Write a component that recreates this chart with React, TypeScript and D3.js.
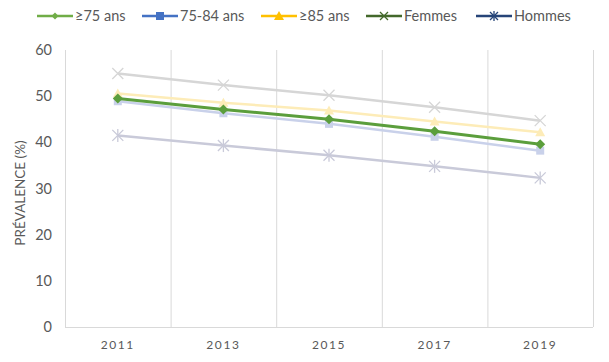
import React, {JSX} from "react";
import * as d3 from "d3";

const years = ["2011", "2013", "2015", "2017", "2019"];
const yTicks = [0, 10, 20, 30, 40, 50, 60];

const ge75 = [49.5, 47.1, 45.0, 42.4, 39.6];
const age7584 = [48.9, 46.3, 44.0, 41.2, 38.2];
const ge85 = [50.6, 48.6, 46.9, 44.5, 42.2];
const femmes = [54.9, 52.4, 50.2, 47.6, 44.7];
const hommes = [41.5, 39.3, 37.2, 34.8, 32.3];

type Series = {name: string; values: number[]; legend: string; plot: string; marker: string; width: number};

const series: Series[] = [
    {name: "75-84 ans", values: age7584, legend: "#4472C4", plot: "#c9d1ea", marker: "square", width: 2.5},
    {name: "≥85 ans", values: ge85, legend: "#FFC000", plot: "#fdecb8", marker: "triangle", width: 2.5},
    {name: "Femmes", values: femmes, legend: "#43682B", plot: "#d6d6d6", marker: "x", width: 2.5},
    {name: "Hommes", values: hommes, legend: "#264478", plot: "#c9cad9", marker: "star", width: 2.5},
    {name: "≥75 ans", values: ge75, legend: "#70AD47", plot: "#5b9e3c", marker: "diamond", width: 3},
];

const legendOrder = ["≥75 ans", "75-84 ans", "≥85 ans", "Femmes", "Hommes"];
const legendX = [37, 142, 261, 366, 476];

const font = "Lato, 'Noto Sans', sans-serif";
const textColor = "#595959";

const Marker = ({kind, cx, cy, color, size}: {kind: string; cx: number; cy: number; color: string; size: number}): JSX.Element => {
    const h = size / 2;
    if (kind === "diamond") {
        return <path d={`M${cx},${cy - h - 1}L${cx + h + 1},${cy}L${cx},${cy + h + 1}L${cx - h - 1},${cy}Z`} fill={color}/>;
    }
    if (kind === "square") {
        return <rect x={cx - h} y={cy - h} width={size} height={size} fill={color}/>;
    }
    if (kind === "triangle") {
        return <path d={`M${cx},${cy - h - 1}L${cx + h + 1},${cy + h}L${cx - h - 1},${cy + h}Z`} fill={color}/>;
    }
    const x = <path d={`M${cx - h},${cy - h}L${cx + h},${cy + h}M${cx - h},${cy + h}L${cx + h},${cy - h}`} stroke={color} strokeWidth={1.3}/>;
    if (kind === "x") return x;
    return (
        <g>
            {x}
            <path d={`M${cx},${cy - h - 1}L${cx},${cy + h + 1}`} stroke={color} strokeWidth={1.3}/>
        </g>
    );
};

export default function App(): JSX.Element {
    const width = 609;
    const height = 362;
    const left = 65;
    const right = 593;
    const top = 50;
    const bottom = 327;

    const x = d3.scaleBand<string>().domain(years).range([left, right]);
    const y = d3.scaleLinear().domain([0, 60]).range([bottom, top]);
    const line = d3.line<number>((d, i) => x(years[i])! + x.bandwidth() / 2, (d) => y(d));

    return (
        <div style={{margin: -8}}>
            <svg width={width} height={height} style={{display: "block", background: "#fff"}}>
                {/* vertical gridlines between categories */}
                {[...years.map((yr) => x(yr)!), right].map((gx, i) => (
                    <line key={i} x1={gx + 0.5} x2={gx + 0.5} y1={top} y2={bottom} stroke="#d9d9d9" strokeWidth={1}/>
                ))}
                <line x1={left} x2={right} y1={bottom + 0.5} y2={bottom + 0.5} stroke="#d9d9d9"/>

                {yTicks.map((t) => (
                    <text key={t} x={52} y={y(t)} dy="0.35em" textAnchor="end" fontFamily={font} fontSize={14.5} fill={textColor}>{t}</text>
                ))}
                {years.map((yr) => (
                    <text key={yr} x={x(yr)! + x.bandwidth() / 2} y={349} textAnchor="middle" fontFamily={font} fontSize={12} letterSpacing={1.6} fill={textColor}>{yr}</text>
                ))}
                <text transform={`translate(25,193) rotate(-90)`} textAnchor="middle" fontFamily={font} fontSize={13.5} fill={textColor}>PRÉVALENCE (%)</text>

                {series.map((s) => (
                    <g key={s.name}>
                        <path d={line(s.values) as string} fill="none" stroke={s.plot} strokeWidth={s.width} strokeLinejoin="round"/>
                        {s.values.map((v, i) => (
                            <Marker key={i} kind={s.marker} cx={x(years[i])! + x.bandwidth() / 2} cy={y(v)} color={s.plot} size={s.marker === "x" || s.marker === "star" ? 11 : 8}/>
                        ))}
                    </g>
                ))}

                {legendOrder.map((name, i) => {
                    const s = series.find((d) => d.name === name)!;
                    const lx = legendX[i];
                    return (
                        <g key={name}>
                            <line x1={lx} x2={lx + 36} y1={16} y2={16} stroke={s.legend} strokeWidth={2.5}/>
                            <Marker kind={s.marker} cx={lx + 18} cy={16} color={s.legend} size={s.marker === "diamond" ? 5 : 8}/>
                            <text x={lx + 38} y={16} dy="0.35em" fontFamily={font} fontSize={14.5} fill={textColor}>{name}</text>
                        </g>
                    );
                })}
            </svg>
        </div>
    );
}
